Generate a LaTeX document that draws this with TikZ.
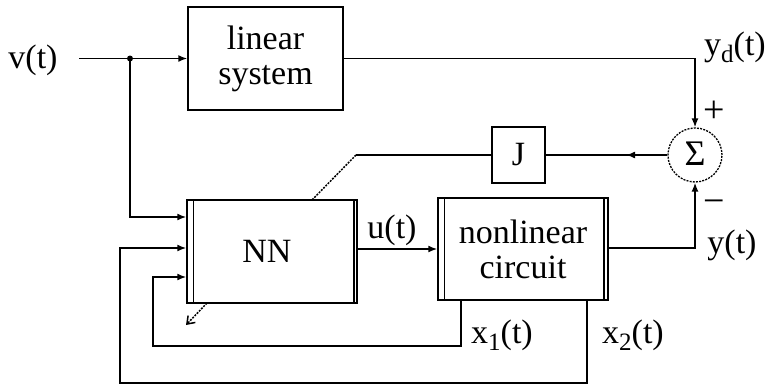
\documentclass[tikz,border=0pt]{standalone}
\usepackage{fontspec}
\setmainfont{Liberation Serif}
\usetikzlibrary{arrows.meta,decorations.markings,calc}
\newcommand\mysub[1]{\raisebox{-7pt}{\fontsize{25}{25}\selectfont #1}}
\begin{document}
\begin{tikzpicture}[x=1pt,y=-1pt,
  font=\fontsize{34}{35}\selectfont,
  wire/.style={line width=1.5pt},
  arr/.style={wire,-{Latex[length=9pt,width=7pt]}},
  blk/.style={draw,line width=1.5pt,rectangle,inner sep=0pt,align=center},
  dbl/.style={line width=1.5pt}
]
\useasboundingbox (0,0) rectangle (770,386);
% blocks
\node[blk,minimum width=155pt,minimum height=103pt] (lin) at (265.5,58.5) {linear\\system};
\node[blk,minimum width=170pt,minimum height=103pt] (nn) at (272,251.5) {\hspace*{-10pt}NN};
\node[blk,minimum width=170pt,minimum height=102pt] (nl) at (523,249) {nonlinear\\circuit};
\node[blk,minimum width=53pt,minimum height=56pt] (J) at (518.5,155) {J};
\node[draw,circle,line width=1.3pt,dash pattern=on 2pt off 1.2pt,minimum size=54pt,inner sep=0pt] (sum) at (695,155) {\raisebox{2pt}{\fontsize{36}{36}\selectfont Σ}};
% double inner lines
\draw[dbl] ($(nn.north west)+(7,0)$) -- ($(nn.south west)+(7,0)$);
\draw[dbl] ($(nn.north east)+(-4,0)$) -- ($(nn.south east)+(-4,0)$);
\draw[dbl] ($(nl.north west)+(7,0)$) -- ($(nl.south west)+(7,0)$);
\draw[dbl] ($(nl.north east)+(-5,0)$) -- ($(nl.south east)+(-5,0)$);
% labels
\node (vt) at (33,60) {v(t)};
\node (ut) at (392,230) {u(t)};
\node (x1) at (502,335) {x\mysub{1}(t)};
\node (x2) at (633,335) {x\mysub{2}(t)};
\node (yd) at (735,47) {y\mysub{d}(t)};
\node (yt) at (732,245) {y(t)};
\node[font=\fontsize{38}{38}\selectfont] (plus) at (714,112) {+};
\node[font=\fontsize{38}{38}\selectfont] (minus) at (714,207) {\char"2212};
% input
\coordinate (vin) at (79,58.5);
\coordinate (jn) at (130,58.5);
\draw[arr] (vin) -- (lin.west);
\fill (jn) circle (3pt);
\draw[arr] (jn) -- (130,217) -- (nn.west |- 0,217);
% yd to sum
\draw[arr] (lin.east) -| (sum.north);
% y to sum
\draw[arr] (nl.east |- 0,248) -| (sum.south);
% sum to J
\draw[wire,postaction={decorate},decoration={markings,mark=at position 0.34 with {\arrow{Latex[length=9pt,width=7pt]}}}] (sum.west) -- (J.east);
% J to NN
\coordinate (bend) at (356,155);
\draw[wire] (J.west) -- (bend);
\draw[wire,dash pattern=on 2pt off 1.2pt] (bend) -- (312,200);
% NN to nl
\draw[arr] (nn.east |- nl.west) -- (nl.west);
% x1 feedback
\draw[arr] (461,300) -- (461,346) -- (153,346) -- (153,277) -- (nn.west |- 0,277);
% x2 feedback
\draw[arr] (587,300) -- (587,383) -- (120,383) -- (120,248) -- (nn.west |- 0,248);
% adaptation arrow
\draw[wire,dash pattern=on 2pt off 1.2pt,-{Straight Barb[length=7pt,width=10pt]}] (207,303) -- (186,325);
\end{tikzpicture}
\end{document}
